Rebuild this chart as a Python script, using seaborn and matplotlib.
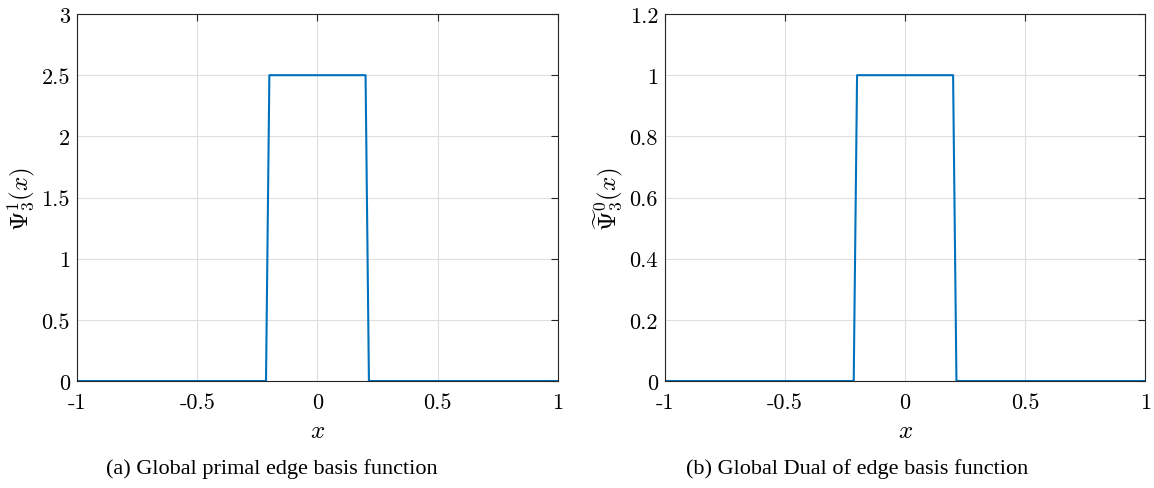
import numpy as np
import pandas as pd
import matplotlib
matplotlib.use('Agg')
import matplotlib.pyplot as plt
import seaborn as sns

# Data
x_primal = [-1.0, -0.214, -0.2, 0.2, 0.214, 1.0]
y_primal = [0.0, 0.0, 2.5, 2.5, 0.0, 0.0]
x_dual = [-1.0, -0.214, -0.2, 0.2, 0.214, 1.0]
y_dual = [0.0, 0.0, 1.0, 1.0, 0.0, 0.0]

x_ticks = [-1, -0.5, 0, 0.5, 1]
x_ticklabels = ['-1', '-0.5', '0', '0.5', '1']
y_ticks_primal = [0, 0.5, 1, 1.5, 2, 2.5, 3]
y_ticklabels_primal = ['0', '0.5', '1', '1.5', '2', '2.5', '3']
y_ticks_dual = [0, 0.2, 0.4, 0.6, 0.8, 1, 1.2]
y_ticklabels_dual = ['0', '0.2', '0.4', '0.6', '0.8', '1', '1.2']

captions = ['(a) Global primal edge basis function', '(b) Global Dual of edge basis function']
caption_x = [0.2357, 0.7426]
ylabels = [r'$\boldsymbol{\Psi}_3^1(x)$', r'$\widetilde{\boldsymbol{\Psi}}_3^0(x)$']

sns.set_style('white')
plt.rcParams['mathtext.fontset'] = 'cm'
plt.rcParams['font.family'] = ['cmr10', 'DejaVu Serif']
plt.rcParams['axes.unicode_minus'] = False
plt.rcParams['text.color'] = 'black'
plt.rcParams['axes.labelcolor'] = 'black'

fig = plt.figure(figsize=(11.54, 4.89), dpi=100)
ax1 = fig.add_axes([0.0667, 0.2188, 0.4168, 0.7505])
ax2 = fig.add_axes([0.5763, 0.2188, 0.4160, 0.7505])

df1 = pd.DataFrame({'x': x_primal, 'y': y_primal})
df2 = pd.DataFrame({'x': x_dual, 'y': y_dual})

panels = [
    (ax1, df1, y_ticks_primal, y_ticklabels_primal, (0, 3)),
    (ax2, df2, y_ticks_dual, y_ticklabels_dual, (0, 1.2)),
]

for i, (ax, df, yt, ytl, ylim) in enumerate(panels):
    sns.lineplot(data=df, x='x', y='y', ax=ax, color='#0072BD', linewidth=1.5,
                 sort=False, estimator=None)
    ax.set_xlim(-1, 1)
    ax.set_ylim(*ylim)
    ax.set_xticks(x_ticks)
    ax.set_xticklabels(x_ticklabels)
    ax.set_yticks(yt)
    ax.set_yticklabels(ytl)
    ax.grid(True, color='#dfdfdf', linewidth=0.8)
    ax.set_axisbelow(True)
    for s in ax.spines.values():
        s.set_visible(True)
        s.set_color('#262626')
        s.set_linewidth(0.8)
    ax.tick_params(direction='in', length=5, width=0.8, labelsize=16,
                   top=True, right=True, colors='#262626', labelcolor='black')
    ax.tick_params(axis='x', pad=8)
    ax.tick_params(axis='y', pad=5)
    ax.set_xlabel(r'$x$', fontsize=18, labelpad=6)
    ax.set_ylabel(ylabels[i], fontsize=18, labelpad=3)
    fig.text(caption_x[i], 0.04, captions[i], ha='center', va='center',
             fontsize=16, color='black', family=['Liberation Serif'])

fig.savefig('out.png', dpi=100)
